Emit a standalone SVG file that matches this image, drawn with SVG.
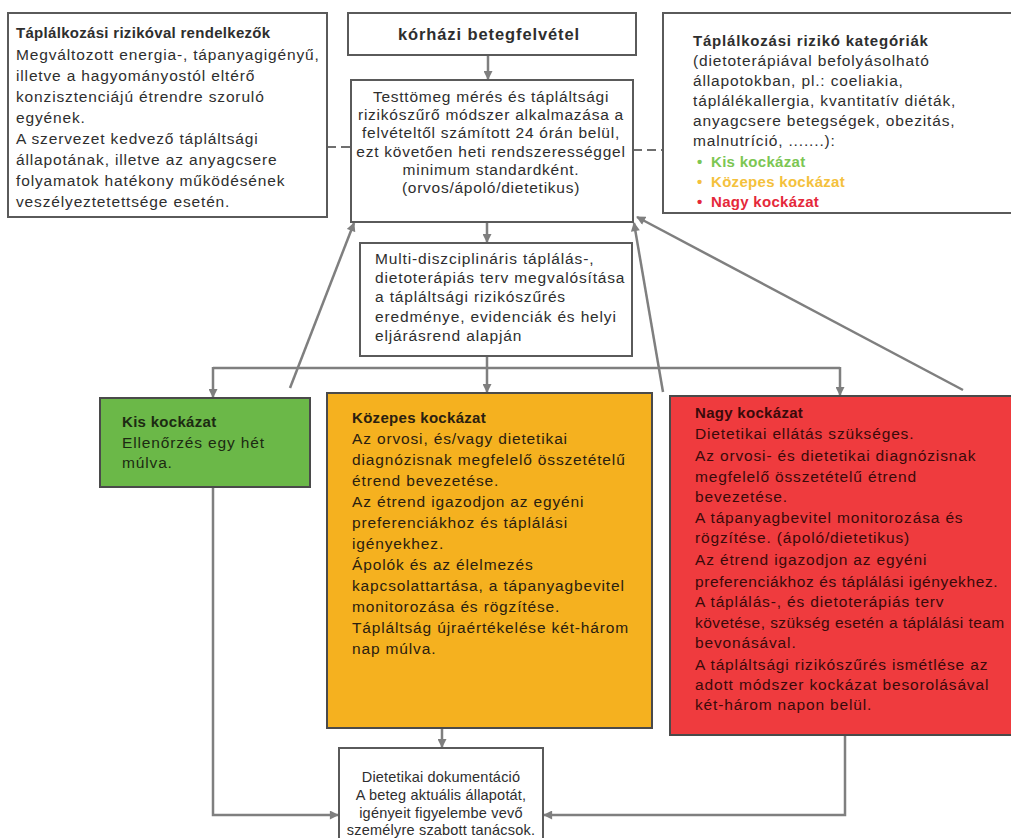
<svg xmlns="http://www.w3.org/2000/svg" width="1011" height="838" viewBox="0 0 1011 838">
<style>
.box{fill:#fff;stroke:#5a5a5a;stroke-width:2}
.t{font-family:"Liberation Sans",Arial,sans-serif;font-size:15.5px;fill:#2e2e2e;letter-spacing:0.85px}
.b{font-weight:bold;font-size:15px;letter-spacing:0.3px}
.c{text-anchor:middle}
.sm{font-size:14.5px;letter-spacing:0.2px}
.con{fill:none;stroke:#7f7f7f;stroke-width:2.5}
.dash{fill:none;stroke:#6f6f6f;stroke-width:2;stroke-dasharray:9,5}
</style>
<defs>
<marker id="ah" viewBox="0 0 10 10" refX="9" refY="5" markerWidth="10" markerHeight="9" markerUnits="userSpaceOnUse" orient="auto">
<path d="M0,0 L10,5 L0,10 z" fill="#7f7f7f"/>
</marker>
</defs>
<rect width="1011" height="838" fill="#fff"/>
<g id="connectors">
<line class="dash" x1="327" y1="147" x2="351" y2="147"/>
<line class="dash" x1="633" y1="150" x2="663" y2="150"/>
<line class="con" x1="488" y1="55" x2="488" y2="79" marker-end="url(#ah)"/>
<line class="con" x1="487" y1="222" x2="487" y2="242" marker-end="url(#ah)"/>
<line class="con" x1="487" y1="356" x2="487" y2="392" marker-end="url(#ah)"/>
<line class="con" x1="213" y1="368" x2="840" y2="368"/>
<line class="con" x1="213" y1="367" x2="213" y2="397" marker-end="url(#ah)"/>
<line class="con" x1="840" y1="367" x2="840" y2="395" marker-end="url(#ah)"/>
<polyline class="con" points="213,487 213,815 338,815" marker-end="url(#ah)"/>
<line class="con" x1="442" y1="728" x2="442" y2="747" marker-end="url(#ah)"/>
<polyline class="con" points="845,735 845,815 544,815" marker-end="url(#ah)"/>
<line class="con" x1="290" y1="388" x2="354" y2="223" marker-end="url(#ah)"/>
<line class="con" x1="663" y1="392" x2="634" y2="223" marker-end="url(#ah)"/>
<line class="con" x1="963" y1="390" x2="637" y2="217" marker-end="url(#ah)"/>
</g>
<g id="n-rizikoval">
<rect class="box" x="8" y="13" width="319" height="204"/>
<text class="t"><tspan class="b" x="16" y="38">Táplálkozási rizikóval rendelkezők</tspan><tspan x="16" y="60">Megváltozott energia-, tápanyagigényű,</tspan><tspan x="16" y="81">illetve a hagyományostól eltérő</tspan><tspan x="16" y="102">konzisztenciájú étrendre szoruló</tspan><tspan x="16" y="123">egyének.</tspan><tspan x="16" y="144">A szervezet kedvező tápláltsági</tspan><tspan x="16" y="165">állapotának, illetve az anyagcsere</tspan><tspan x="16" y="186">folyamatok hatékony működésének</tspan><tspan x="16" y="207">veszélyeztetettsége esetén.</tspan></text>
</g>
<g id="n-felvetel">
<rect class="box" x="348" y="13" width="288" height="42"/>
<text class="t c" x="489" y="40" style="font-weight:bold;font-size:16.5px;letter-spacing:0.9px">kórházi betegfelvétel</text>
</g>
<g id="n-testtomeg">
<rect class="box" x="351" y="80" width="282" height="142"/>
<text class="t c" style="letter-spacing:0.75px"><tspan x="491" y="102">Testtömeg mérés és tápláltsági</tspan><tspan x="491" y="120">rizikószűrő módszer alkalmazása a</tspan><tspan x="491" y="138">felvételtől számított 24 órán belül,</tspan><tspan x="491" y="157">ezt követően heti rendszerességgel</tspan><tspan x="491" y="175">minimum standardként.</tspan><tspan x="491" y="193">(orvos/ápoló/dietetikus)</tspan></text>
</g>
<g id="n-kategoriak">
<rect class="box" x="663" y="13" width="352" height="200"/>
<text class="t"><tspan class="b" x="693" y="46" style="letter-spacing:0.8px">Táplálkozási rizikó kategóriák</tspan><tspan x="693" y="66">(dietoterápiával befolyásolható</tspan><tspan x="693" y="86">állapotokban, pl.: coeliakia,</tspan><tspan x="693" y="106">táplálékallergia, kvantitatív diéták,</tspan><tspan x="693" y="126">anyagcsere betegségek, obezitás,</tspan><tspan x="693" y="146">malnutríció, .......):</tspan></text>
<text class="t b"><tspan x="697" y="167" style="fill:#7cc653">•</tspan><tspan x="711" y="167" style="fill:#7cc653">Kis kockázat</tspan><tspan x="697" y="187" style="fill:#f4c13c">•</tspan><tspan x="711" y="187" style="fill:#f4c13c">Közepes kockázat</tspan><tspan x="697" y="207" style="fill:#e5283a">•</tspan><tspan x="711" y="207" style="fill:#e5283a">Nagy kockázat</tspan></text>
</g>
<g id="n-multi">
<rect class="box" x="360" y="243" width="272" height="113"/>
<text class="t"><tspan x="375" y="264">Multi-diszciplináris táplálás-,</tspan><tspan x="375" y="283">dietoterápiás terv megvalósítása</tspan><tspan x="375" y="302">a tápláltsági rizikószűrés</tspan><tspan x="375" y="322">eredménye, evidenciák és helyi</tspan><tspan x="375" y="341">eljárásrend alapján</tspan></text>
</g>
<g id="n-kis">
<rect x="100" y="398" width="210" height="89" fill="#6bb848" stroke="#4a4a4a" stroke-width="2"/>
<text class="t" style="fill:#1c2a12"><tspan class="b" x="122" y="427">Kis kockázat</tspan><tspan x="122" y="448">Ellenőrzés egy hét</tspan><tspan x="122" y="468">múlva.</tspan></text>
</g>
<g id="n-kozepes">
<rect x="327" y="393" width="325" height="335" fill="#f5b11f" stroke="#4a4a4a" stroke-width="2"/>
<text class="t" style="fill:#2a2010"><tspan class="b" x="352" y="423">Közepes kockázat</tspan><tspan x="352" y="444">Az orvosi, és/vagy dietetikai</tspan><tspan x="352" y="465">diagnózisnak megfelelő összetételű</tspan><tspan x="352" y="486">étrend bevezetése.</tspan><tspan x="352" y="507">Az étrend igazodjon az egyéni</tspan><tspan x="352" y="528">preferenciákhoz és táplálási</tspan><tspan x="352" y="549">igényekhez.</tspan><tspan x="352" y="570">Ápolók és az élelmezés</tspan><tspan x="352" y="591">kapcsolattartása, a tápanyagbevitel</tspan><tspan x="352" y="612">monitorozása és rögzítése.</tspan><tspan x="352" y="633">Tápláltság  újraértékelése két-három</tspan><tspan x="352" y="654">nap múlva.</tspan></text>
</g>
<g id="n-nagy">
<rect x="670" y="396" width="345" height="339" fill="#ef3b3e" stroke="#4a4a4a" stroke-width="2"/>
<text class="t" style="fill:#3a0a0a"><tspan class="b" x="695" y="418">Nagy kockázat</tspan><tspan x="695" y="439">Dietetikai ellátás szükséges.</tspan><tspan x="695" y="461">Az orvosi- és dietetikai diagnózisnak</tspan><tspan x="695" y="482">megfelelő összetételű étrend</tspan><tspan x="695" y="502">bevezetése.</tspan><tspan x="695" y="523">A tápanyagbevitel monitorozása és</tspan><tspan x="695" y="543">rögzítése. (ápoló/dietetikus)</tspan><tspan x="695" y="565">Az étrend igazodjon az egyéni</tspan><tspan x="695" y="587" style="letter-spacing:0.6px">preferenciákhoz és táplálási igényekhez.</tspan><tspan x="695" y="607">A táplálás-, és dietoterápiás terv</tspan><tspan x="695" y="628" style="letter-spacing:0.45px">követése, szükség esetén a táplálási team</tspan><tspan x="695" y="648">bevonásával.</tspan><tspan x="695" y="670">A tápláltsági rizikószűrés ismétlése az</tspan><tspan x="695" y="690">adott módszer kockázat besorolásával</tspan><tspan x="695" y="710">két-három napon belül.</tspan></text>
</g>
<g id="n-dokumentacio">
<rect class="box" x="339" y="748" width="204" height="100"/>
<text class="t c sm"><tspan x="441" y="782">Dietetikai dokumentáció</tspan><tspan x="441" y="800">A beteg aktuális állapotát,</tspan><tspan x="441" y="818">igényeit figyelembe vevő</tspan><tspan x="441" y="835">személyre szabott tanácsok.</tspan></text>
</g>
</svg>
